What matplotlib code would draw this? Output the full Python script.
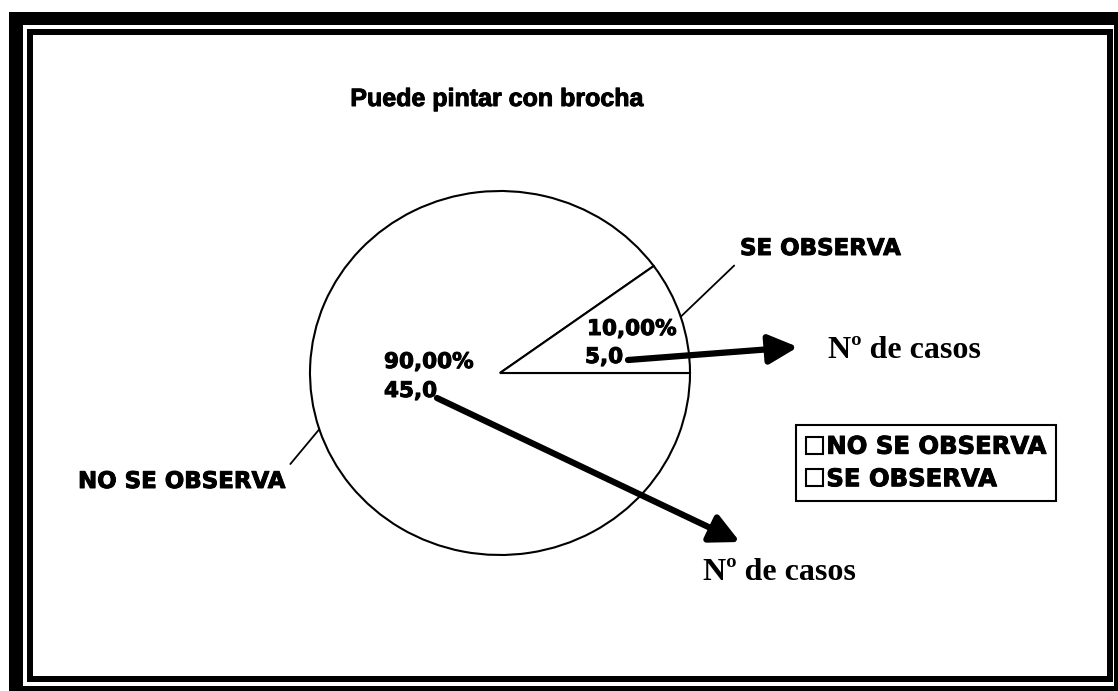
import numpy as np
import matplotlib
matplotlib.use("Agg")
import matplotlib.pyplot as plt
import matplotlib.patheffects as pe
from matplotlib.patches import Rectangle

# Chart data
title = "Puede pintar con brocha"
categories = ["NO SE OBSERVA", "SE OBSERVA"]
casos = [45.0, 5.0]
arrow_text = "Nº de casos"

W, H = 1118, 691
HEAVY = [pe.withStroke(linewidth=0.7, foreground="black")]
VALUE_FONT = dict(family="DejaVu Sans", weight="bold", fontsize=15.5,
                  path_effects=HEAVY)
CAT_FONT = dict(family="DejaVu Sans", weight="bold", fontsize=16.5,
                path_effects=HEAVY)


def fmt_pct(v, total):
    return f"{v / total * 100:.2f}%".replace(".", ",")


def fmt_num(v):
    return f"{v:.1f}".replace(".", ",")


fig = plt.figure(figsize=(W / 100, H / 100), dpi=100)
fig.patch.set_facecolor("white")

# pie axes: centre and radii in pixels (slightly elliptical like the scan)
cx, cy, rx, ry = 500, 373, 190, 182
m = 1.05
pax = fig.add_axes([(cx - rx * m) / W, (H - cy - ry * m) / H,
                    2 * rx * m / W, 2 * ry * m / H])
wedges, _ = pax.pie(casos, startangle=36, counterclock=True,
                    colors=["white", "white"],
                    wedgeprops=dict(edgecolor="black", linewidth=1.5))
pax.set_aspect("auto")
pax.set_xlim(-m, m)
pax.set_ylim(-m, m)

# overlay axes in pixel coordinates (y pointing down), drawn on top
ov = fig.add_axes([0, 0, 1, 1], zorder=3)
ov.set_xlim(0, W)
ov.set_ylim(H, 0)
ov.patch.set_alpha(0)
ov.axis("off")

# double frame round the chart
for x, y, w, h in [(9, 12, 14, 679), (9, 12, 1109, 13), (1114, 12, 4, 679),
                   (9, 686, 1109, 5),
                   (27, 29, 6, 653), (27, 29, 1086, 6), (1107, 29, 6, 653),
                   (27, 676, 1086, 6)]:
    ov.add_patch(Rectangle((x, y), w, h, facecolor="black", edgecolor="none"))

ov.text(497, 106, title, ha="center", va="baseline",
        family="Liberation Sans", weight="bold", fontsize=18,
        path_effects=HEAVY)

total = sum(casos)

# category labels with leader lines from the wedge mid angles
label_pos = [((78, 488), (1, 1)), ((740, 255), (0, 0))]
for wdg, name, (pos, rel) in zip(wedges, categories, label_pos):
    ang = np.deg2rad((wdg.theta1 + wdg.theta2) / 2)
    ov.annotate(name, xy=(np.cos(ang), np.sin(ang)), xycoords=pax.transData,
                xytext=pos, textcoords="data", ha="left", va="baseline",
                arrowprops=dict(arrowstyle="-", lw=1.3, color="black",
                                relpos=rel, shrinkA=3, shrinkB=0),
                **CAT_FONT)

# value labels inside the slices
value_pos = [((384, 368), (384, 397)), ((587, 335), (585, 363))]
for v, (p1, p2) in zip(casos, value_pos):
    ov.text(*p1, fmt_pct(v, total), ha="left", va="baseline", **VALUE_FONT)
    ov.text(*p2, fmt_num(v), ha="left", va="baseline", **VALUE_FONT)

# thick arrows pointing to "Nº de casos"
arrows = [((437, 398), (740, 542), (703, 580)),
          ((628, 360), (798, 347), (828, 358))]
for start, tip, tpos in arrows:
    ov.annotate("", xy=tip, xytext=start,
                arrowprops=dict(arrowstyle="-|>,head_length=0.8,head_width=0.4",
                                lw=4.5, color="black", mutation_scale=22,
                                shrinkA=0, shrinkB=0))
    ov.text(*tpos, arrow_text, ha="left", va="baseline",
            family="Liberation Serif", weight="bold", fontsize=23)

leg = pax.legend(wedges, categories, loc="upper left",
                 bbox_to_anchor=(796 / W, 1 - 425 / H),
                 bbox_transform=fig.transFigure,
                 prop=dict(family="DejaVu Sans", weight="bold", size=17.5),
                 frameon=True, fancybox=False, framealpha=1,
                 edgecolor="black", handlelength=0.7, handleheight=0.7,
                 handletextpad=0.15, borderpad=0.4, labelspacing=0.35,
                 borderaxespad=0)
leg.get_frame().set_linewidth(1.5)
for t in leg.get_texts():
    t.set_path_effects(HEAVY)
leg.set_zorder(5)

fig.savefig("out.png", dpi=100, facecolor="white")
